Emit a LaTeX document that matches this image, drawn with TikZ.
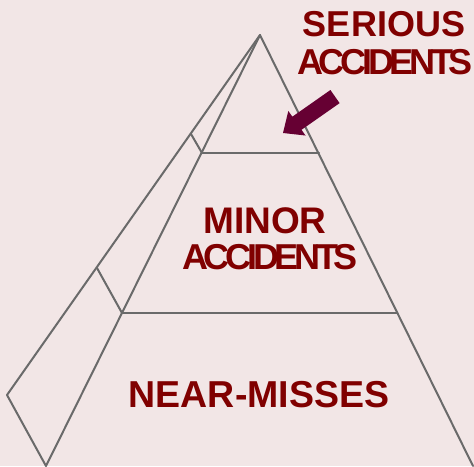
\documentclass[tikz,border=0pt]{standalone}
\usepackage{fontspec}
\setmainfont{Liberation Sans}
\definecolor{bg}{RGB}{242,230,230}
\definecolor{edge}{RGB}{106,106,106}
\definecolor{lbl}{RGB}{128,0,0}
\definecolor{arr}{RGB}{102,0,51}
\begin{document}
\begin{tikzpicture}[x=1pt,y=1pt,
  edgeline/.style={draw=edge,line width=2pt,line join=round,line cap=round},
  label/.style={text=lbl,font=\fontsize{37}{40}\selectfont\bfseries,anchor=base,inner sep=0pt},
  tight/.style={font=\fontsize{36}{40}\selectfont\bfseries\addfontfeatures{LetterSpace=-12}}]
\fill[bg] (0,0) rectangle (474,466);
\useasboundingbox (0,0) rectangle (474,466);
% pyramid points
\coordinate (A) at (260,431);
\coordinate (FL) at (46,0);
\coordinate (FR) at (473,0);
\coordinate (BK) at (7,71);
\coordinate (L1) at (202,313);
\coordinate (R1) at (319,313);
\coordinate (L2) at (122,153);
\coordinate (R2) at (397,153);
\coordinate (B1) at (191,332);
\coordinate (B2) at (97,198);
\draw[edgeline] (A) -- (FL);
\draw[edgeline] (A) -- (FR);
\draw[edgeline] (A) -- (BK) -- (FL);
\draw[edgeline] (L1) -- (R1);
\draw[edgeline] (L2) -- (R2);
\draw[edgeline] (B1) -- (L1);
\draw[edgeline] (B2) -- (L2);
% arrow
\begin{scope}[shift={(283,333)},rotate=215]
\fill[arr] (0,0) -- (-17,15) -- (-17,8) -- (-63.5,8) -- (-63.5,-8) -- (-17,-8) -- (-17,-15) -- cycle;
\end{scope}
% labels
\node[label,font=\fontsize{36}{40}\selectfont\bfseries] (ser) at (384,429) {SERIOUS};
\node[label,tight] (acc1) at (385,391) {ACCIDENTS};
\node[label] (min) at (265,232) {MINOR};
\node[label,tight] (acc2) at (270,196) {ACCIDENTS};
\node[label,font=\fontsize{37.5}{40}\selectfont\bfseries] (near) at (259,58) {NEAR-MISSES};
\end{tikzpicture}
\end{document}
